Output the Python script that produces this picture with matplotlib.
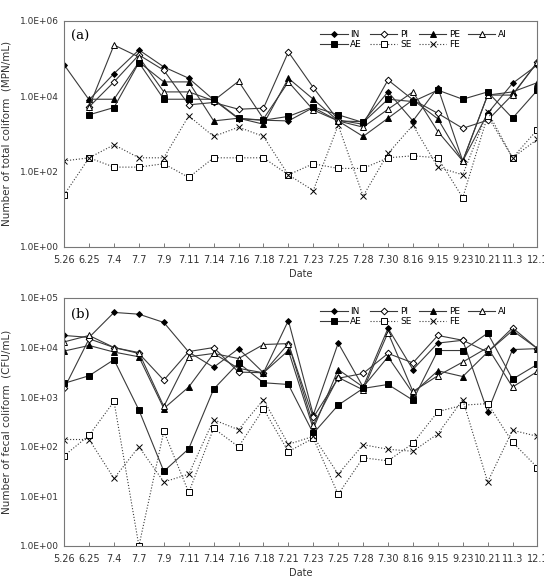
import numpy as np
import matplotlib
matplotlib.use("Agg")
import matplotlib.pyplot as plt
from matplotlib.ticker import FixedLocator, FuncFormatter, NullLocator

dates = ["5.26", "6.25", "7.4", "7.7", "7.9", "7.11", "7.14", "7.16", "7.18", "7.21",
         "7.23", "7.25", "7.28", "7.30", "8.16", "9.15", "9.23", "10.21", "11.3", "12.1"]
nan = np.nan

# (a) total coliform, MPN/mL
tc_in = [6.8e4, 8.0e3, 4.0e4, 1.7e5, 6.0e4, 3.0e4, 8.0e3, 2.5e3, 2.3e3, 2.2e3,
         5.0e3, 2.2e3, 2.1e3, 1.3e4, 2.2e3, 1.7e4, 1.9e2, 3.5e3, 2.2e4, 6.8e4]
tc_pi = [nan, 5.2e3, 2.4e4, 1.25e5, 4.9e4, 5.9e3, 6.8e3, 4.5e3, 4.8e3, 1.5e5,
         1.7e4, 2.3e3, 1.8e3, 2.7e4, 8.0e3, 3.5e3, 1.4e3, 2.3e3, 1.1e4, 8.1e4]
tc_pe = [nan, 8.3e3, 8.3e3, 8.1e4, 2.4e4, 2.4e4, 2.2e3, 2.6e3, 1.8e3, 3.0e4,
         8.3e3, 2.2e3, 8.5e2, 2.6e3, 8.0e3, 2.5e3, 1.9e2, 1.07e4, 1.3e4, 2.3e4]
tc_ai = [nan, 5.2e3, 2.3e5, 1.1e5, 1.3e4, 1.3e4, 7.6e3, 2.5e4, 2.5e3, 2.4e4,
         4.3e3, 2.2e3, 1.5e3, 4.5e3, 1.3e4, 1.15e3, 1.9e2, 1.07e4, 1.07e4, 8.1e4]
tc_ae = [nan, 3.2e3, 5.0e3, 7.8e4, 8.3e3, 8.3e3, 8.3e3, 2.6e3, 2.3e3, 2.9e3,
         5.2e3, 3.2e3, 2.0e3, 8.3e3, 7.2e3, 1.45e4, 8.3e3, 1.3e4, 2.6e3, 1.45e4]
tc_se = [24, 230, 130, 130, 160, 69, 230, 230, 230, 81,
         160, 120, 120, 230, 260, 230, 20, 3.0e3, 230, 1.3e3]
tc_fe = [190, 230, 510, 230, 230, 3.0e3, 850, 1.5e3, 850, 81,
         31, 1.7e3, 22, 300, 1.7e3, 130, 81, 3.9e3, 230, 720]

# (b) fecal coliform, CFU/mL
fc_in = [1.75e4, 1.6e4, 5.1e4, 4.7e4, 3.2e4, 8.1e3, 4.0e3, 9.5e3, 3.1e3, 3.5e4,
         440, 1.23e4, 1.6e3, 2.45e4, 3.6e3, 1.23e4, 1.4e4, 510, 9.1e3, 9.5e3]
fc_pi = [1.5e3, 1.5e4, 1.0e4, 7.6e3, 2.2e3, 8.3e3, 1.0e4, 3.2e3, 3.1e3, 1.2e4,
         390, 2.4e3, 3.0e3, 7.6e3, 4.9e3, 1.75e4, 1.4e4, 8.1e3, 2.5e4, 9.5e3]
fc_pe = [8.5e3, 1.1e4, 8.1e3, 6.5e3, 590, 1.6e3, 7.6e3, 3.8e3, 3.1e3, 8.7e3,
         230, 3.6e3, 1.6e3, 6.5e3, 1.2e3, 3.4e3, 2.6e3, 8.1e3, 2.2e4, 9.5e3]
fc_ai = [1.3e4, 1.75e4, 1.0e4, 7.9e3, 650, 6.5e3, 7.6e3, 6.0e3, 1.15e4, 1.2e4,
         275, 2.5e3, 1.4e3, 2.0e4, 1.3e3, 2.7e3, 5.1e3, 1.0e4, 1.6e3, 3.3e3]
fc_ae = [1.9e3, 2.7e3, 5.7e3, 550, 32, 91, 1.45e3, 4.9e3, 1.95e3, 1.8e3,
         186, 690, 1.5e3, 1.8e3, 870, 8.7e3, 8.7e3, 1.95e4, 2.3e3, 4.6e3]
fc_se = [66, 170, 820, 1, 205, 12, 235, 100, 580, 80,
         148, 11, 60, 52, 117, 510, 690, 740, 123, 38]
fc_fe = [140, 140, 23, 100, 19.5, 28, 350, 220, 890, 112,
         162, 28, 110, 89, 81, 182, 890, 19.5, 215, 162]

series_names = ["IN", "PI", "PE", "AI", "AE", "SE", "FE"]
styles = {
    "IN": dict(marker="D", mfc="black", ms=3.0, ls="-"),
    "PI": dict(marker="D", mfc="white", ms=3.4, ls="-"),
    "PE": dict(marker="^", mfc="black", ms=4.5, ls="-"),
    "AI": dict(marker="^", mfc="white", ms=4.5, ls="-"),
    "AE": dict(marker="s", mfc="black", ms=4.2, ls="-"),
    "SE": dict(marker="s", mfc="white", ms=4.2, ls=":"),
    "FE": dict(marker="x", mfc="none", ms=3.8, ls=":"),
}
# legend fills column by column; this gives rows IN PI PE AI / AE SE FE
legend_order = ["IN", "AE", "PI", "SE", "PE", "FE", "AI"]


def sci_label(v, pos):
    e = int(round(np.log10(v)))
    sign = "+" if e >= 0 else "-"
    return "1.0E%s%02d" % (sign, abs(e))


def draw_panel(ax, data, ymax, yticks, ylabel, tag):
    x = np.arange(len(dates))
    lines = {}
    for name, vals in zip(series_names, data):
        st = styles[name]
        lines[name], = ax.plot(x, vals, color="#3a3a3a", lw=0.8, ls=st["ls"],
                               marker=st["marker"], ms=st["ms"], mfc=st["mfc"],
                               mec="black", mew=0.7, label=name)
    ax.set_yscale("log")
    ax.set_ylim(1, ymax)
    ax.set_xlim(0, len(dates) - 1)
    ax.yaxis.set_major_locator(FixedLocator(yticks))
    ax.yaxis.set_minor_locator(NullLocator())
    ax.yaxis.set_major_formatter(FuncFormatter(sci_label))
    ax.set_xticks(x)
    ax.set_xticklabels(dates)
    ax.tick_params(axis="x", direction="in", length=3, width=0.6, color="#666666",
                   labelsize=7, labelcolor="#333333", pad=6)
    ax.tick_params(axis="y", length=0, labelsize=6.5, labelcolor="#333333", pad=4)
    for sp in ax.spines.values():
        sp.set_color("#777777")
        sp.set_linewidth(0.8)
    ax.set_xlabel("Date", fontsize=7, color="#333333", labelpad=3)
    ax.set_ylabel(ylabel, fontsize=7.5, color="#333333", labelpad=6)
    ax.text(0.015, 0.96, tag, transform=ax.transAxes, family="DejaVu Serif",
            fontsize=9.5, va="top", ha="left")
    ax.legend([lines[n] for n in legend_order], legend_order, ncol=4,
              loc="upper left", bbox_to_anchor=(0.53, 0.985), frameon=False,
              fontsize=6.5, handlelength=3.0, handletextpad=0.3, columnspacing=0.9,
              labelspacing=0.15, borderaxespad=0.2)


fig = plt.figure(figsize=(5.44, 5.83), dpi=100)
ax1 = fig.add_axes([0.118, 0.577, 0.870, 0.387])
ax2 = fig.add_axes([0.118, 0.0635, 0.870, 0.4255])

draw_panel(ax1, [tc_in, tc_pi, tc_pe, tc_ai, tc_ae, tc_se, tc_fe], 1e6,
           [1, 1e2, 1e4, 1e6], "Number of total coliform  (MPN/mL)", "(a)")
draw_panel(ax2, [fc_in, fc_pi, fc_pe, fc_ai, fc_ae, fc_se, fc_fe], 1e5,
           [1, 1e1, 1e2, 1e3, 1e4, 1e5], "Number of fecal coliform  (CFU/mL)", "(b)")

fig.savefig("out.png", dpi=100)
